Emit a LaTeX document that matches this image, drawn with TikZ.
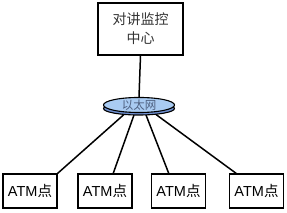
\documentclass[tikz,border=0pt]{standalone}
\usepackage{fontspec}
\setmainfont{Liberation Sans}
\newfontfamily\cjk{Noto Sans CJK SC}
\usetikzlibrary{shapes.geometric}
\definecolor{disktop}{HTML}{A9CBF2}
\definecolor{diskrim}{HTML}{6E8FD0}
\definecolor{disktext}{HTML}{4E6080}
\tikzset{
  box/.style={draw=black, line width=1.4pt, minimum width=54pt, minimum height=34pt, inner sep=0pt, font=\fontsize{14.5pt}{16pt}\selectfont},
  topbox/.style={draw=black, line width=1.4pt, minimum width=85pt, minimum height=52pt, inner sep=0pt, align=center, text=black!80, font=\cjk\fontsize{14pt}{19pt}\selectfont},
  link/.style={line width=1.5pt, draw=black},
  disk/.style={ellipse, draw=black, line width=1.1pt, fill=disktop, minimum width=71pt, minimum height=13pt, inner sep=0pt, text=disktext, font=\cjk\fontsize{11.5pt}{12pt}\selectfont}
}
\begin{document}
\begin{tikzpicture}[x=1pt,y=-1pt]
\useasboundingbox (0,0) rectangle (287,213);
\node[topbox] (center) at (140.5,29) {对讲监控\\中心};
% disk rim
\filldraw[fill=diskrim, draw=black, line width=1.1pt] (139,108.5) ellipse [x radius=35.5pt, y radius=6.5pt];
\node[disk] (net) at (139,105) {以太网};
\coordinate (n1) at (124,114.5);
\coordinate (n2) at (134,115);
\coordinate (n3) at (146,115);
\coordinate (n4) at (156,114.5);
\node[box] (a1) at (30,191) {ATM{\cjk 点}};
\node[box] (a2) at (105,191) {ATM{\cjk 点}};
\node[box] (a3) at (178.5,191) {ATM{\cjk 点}};
\node[box] (a4) at (256.5,191) {ATM{\cjk 点}};
\coordinate (t1) at (a1.north east);
\coordinate (t2) at (113,174);
\coordinate (t3) at (169,174);
\coordinate (t4) at (237,174);
\draw[link] (center.south) -- (net.north);
\draw[link] (n1) -- (t1);
\draw[link] (n2) -- (t2);
\draw[link] (n3) -- (t3);
\draw[link] (n4) -- (t4);
\end{tikzpicture}
\end{document}
